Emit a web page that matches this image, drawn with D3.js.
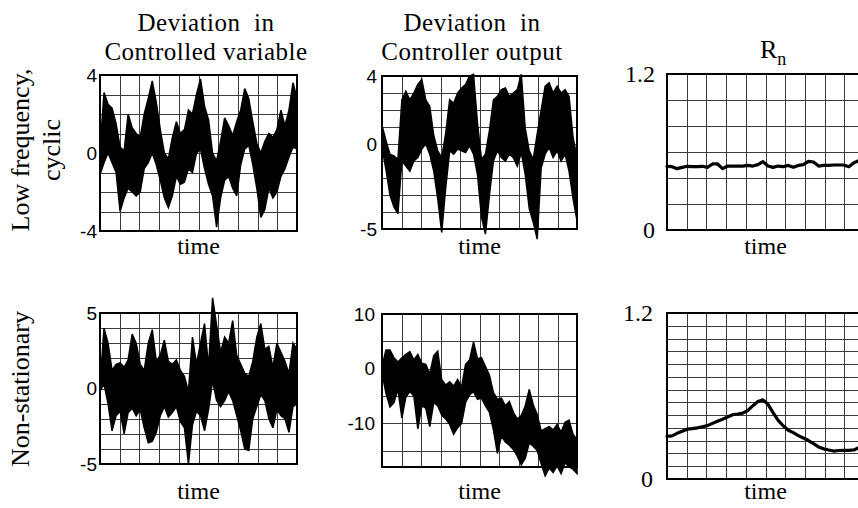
<!DOCTYPE html>
<html>
<head>
<meta charset="utf-8">
<script src="https://cdn.jsdelivr.net/npm/d3@7"></script>
<style>
  html, body { margin: 0; padding: 0; background: #fff; }
  svg { display: block; }
  .serif { font-family: "Liberation Serif", "Times New Roman", serif; fill: #000; }
  .sans { font-family: "Liberation Sans", Arial, sans-serif; fill: #000; }
  .grid line { stroke: #3c3c3c; stroke-width: 1; shape-rendering: crispEdges; }
  .frame { fill: none; stroke: #000; stroke-width: 1.2; shape-rendering: crispEdges; }
  .band { fill: #000; stroke: #000; stroke-width: 1.5; stroke-linejoin: miter; stroke-miterlimit: 3; }
  .rn { fill: none; stroke: #000; stroke-width: 3.2; stroke-linejoin: round; stroke-linecap: round; }
</style>
</head>
<body>
<div id="chart"></div>
<script>
// column / row headings
const columnTitles = [
  ["Deviation  in", "Controlled variable"],
  ["Deviation  in", "Controller output"],
];
const rowTitles = [["Low frequency,", "cyclic"], ["Non-stationary"]];
const axisLabel = "time";

// tick labels per panel
const cvCyclicTicks = [4, 0, -4];
const coCyclicTicks = [4, 0, -5];
const rnCyclicTicks = [1.2, 0];
const cvNonstatTicks = [5, 0, -5];
const coNonstatTicks = [10, 0, -10];
const rnNonstatTicks = [1.2, 0];

// noisy traces read as upper / lower envelope of the black band
const cvCyclicHigh = [0.2, 3.1, 2.5, 2.3, 1.5, 0.3, 0.1, 2.0, 1.3, 1.0, 0.8, 2.0, 2.8, 3.7, 2.6, 1.2, 0.0, -0.3, 0.8, 1.6,
  1.0, 1.2, 2.2, 2.0, 3.0, 3.8, 2.4, 1.7, 0.0, -0.4, 0.6, 1.8, 1.4, 0.9, 1.6, 2.2, 3.3, 2.8, 1.6, 0.5,
  0.0, 0.6, 1.0, 0.8, 1.2, 2.2, 1.4, 2.2, 3.6, 2.8];
const cvCyclicLow = [-1.1, -0.5, 0.0, -0.5, -1.0, -3.0, -2.3, -1.8, -2.0, -2.2, -2.0, -0.8, -0.5, 0.0, -0.6, -1.4, -2.3, -2.8, -2.2, -1.2,
  -1.6, -1.5, -0.8, -1.0, 0.0, 0.2, -0.8, -1.6, -2.2, -3.8, -2.3, -1.4, -1.2, -1.8, -2.2, -0.6, 0.2, 0.4, -0.6, -1.8,
  -3.3, -2.9, -1.8, -2.3, -2.0, -1.2, -0.8, -0.2, 0.3, 0.2];

const coCyclicHigh = [1.1, 0.2, -0.6, -0.7, -0.9, 2.6, 3.1, 2.6, 3.0, 3.5, 3.8, 2.6, 2.2, 0.5, -0.4, -0.8, 0.6, 2.6, 2.4, 3.0,
  3.3, 3.5, 4.0, 4.1, 1.2, -0.9, -0.6, 0.8, 2.6, 2.8, 3.2, 3.3, 2.8, 3.0, 3.2, 4.1, 0.9, -0.4, -0.9, 0.6,
  2.0, 3.4, 3.6, 3.0, 3.4, 3.0, 3.2, 2.8, 0.4, -0.8];
const coCyclicLow = [-0.2, -1.5, -3.0, -3.7, -4.1, -1.0, -1.3, -1.6, -1.0, -0.8, -0.3, 0.0, -0.6, -1.6, -3.2, -5.2, -2.6, -0.4, -0.6, -0.3,
  -0.4, -0.5, -0.1, -0.6, -1.8, -4.3, -5.3, -3.0, -1.0, -0.4, -0.8, -1.0, -0.6, -0.8, -1.3, -0.5, -1.8, -3.8, -4.6, -5.6,
  -1.4, -0.6, -0.2, -0.8, -0.4, -1.0, -0.6, -1.6, -3.2, -4.5];

const cvNonstatHigh = [0.2, 4.0, 3.0, 1.2, 1.6, 1.7, 1.4, 1.9, 3.6, 3.0, 1.6, 1.2, 3.0, 3.9, 1.8, 2.2, 3.2, 1.8, 1.6, 1.9,
  1.2, 0.8, -0.2, 3.4, 1.6, 3.0, 4.3, 1.4, 6.0, 4.2, 2.4, 3.4, 3.0, 4.5, 2.2, 1.6, 1.0, 0.8, 1.8, 3.4,
  4.3, 2.6, 2.8, 1.4, 3.0, 2.4, 1.8, 1.0, 3.0, 2.6];
const cvNonstatLow = [-0.2, 0.3, -1.0, -2.8, -1.8, -1.5, -3.0, -1.6, -1.3, -1.8, -1.4, -2.6, -3.6, -3.5, -2.9, -1.8, -1.2, -1.9, -1.6, -1.2,
  -2.2, -2.6, -5.0, -2.4, -1.5, -1.8, -2.8, -1.4, 0.5, -0.8, -1.2, -0.8, -0.2, -0.8, -1.8, -2.8, -4.0, -4.1, -2.0, -1.2,
  -0.4, -0.8, -2.0, -2.6, -1.4, -1.8, -2.0, -2.9, -1.2, -1.0];

const coNonstatHigh = [0.5, 3.4, 3.4, 2.0, 1.2, 2.0, 2.6, 3.1, 1.6, 2.6, 1.0, 0.8, -1.0, 2.4, 3.2, -2.0, -3.0, -2.4, -3.2, -2.0,
  -3.4, 0.8, 1.6, 4.9, 1.8, 2.0, 0.4, -1.2, -4.4, -5.6, -5.4, -6.8, -6.0, -8.0, -9.2, -8.6, -6.8, -3.8, -6.6, -8.4,
  -11.4, -11.0, -10.6, -11.2, -10.2, -11.6, -9.8, -9.4, -12.0, -13.0];
const coNonstatLow = [-0.8, -4.5, -7.0, -6.2, -3.8, -9.0, -5.2, -4.2, -5.0, -11.0, -6.8, -7.2, -10.6, -6.2, -6.8, -8.5, -9.2, -10.2, -12.0, -10.8,
  -10.0, -6.2, -4.8, -4.2, -5.6, -5.4, -6.8, -8.0, -11.2, -15.5, -12.4, -13.4, -14.0, -14.8, -16.0, -17.6, -16.4, -13.6, -14.2, -15.0,
  -17.4, -19.6, -18.2, -19.0, -17.8, -19.2, -17.2, -18.0, -18.4, -19.2];

// performance index R_n
const rnCyclic = [0.49, 0.487, 0.472, 0.482, 0.49, 0.487, 0.487, 0.49, 0.482, 0.508, 0.508, 0.472, 0.492, 0.492, 0.492, 0.492, 0.497, 0.492, 0.503, 0.526,
  0.492, 0.482, 0.492, 0.487, 0.497, 0.482, 0.497, 0.503, 0.528, 0.523, 0.492, 0.497, 0.497, 0.5, 0.5, 0.5, 0.487, 0.518, 0.533, 0.538];
const rnNonstat = [0.308, 0.312, 0.33, 0.345, 0.36, 0.364, 0.37, 0.378, 0.386, 0.402, 0.418, 0.432, 0.448, 0.465, 0.47, 0.476, 0.495, 0.53, 0.56, 0.572,
  0.54, 0.48, 0.424, 0.385, 0.352, 0.335, 0.314, 0.296, 0.278, 0.255, 0.232, 0.218, 0.21, 0.202, 0.206, 0.207, 0.207, 0.21, 0.228, 0.235];

const width = 858;
const height = 508;

const panels = [
  { x: 100, y: 75, w: 197, h: 156, domain: [-4, 4], rows: 8, ticks: cvCyclicTicks, high: cvCyclicHigh, low: cvCyclicLow, font: "sans", gap: 3, timeY: 254 },
  { x: 382, y: 76, w: 195, h: 153, domain: [-5, 4], rows: 9, ticks: coCyclicTicks, high: coCyclicHigh, low: coCyclicLow, font: "sans", gap: 5, timeY: 254 },
  { x: 667, y: 74, w: 197, h: 156, domain: [0, 1.2], rows: 6, ticks: rnCyclicTicks, line: rnCyclic, font: "serif", gap: 12, timeY: 254 },
  { x: 100, y: 313, w: 197, h: 151, domain: [-5, 5], rows: 10, ticks: cvNonstatTicks, high: cvNonstatHigh, low: cvNonstatLow, font: "sans", gap: 3, timeY: 499 },
  { x: 382, y: 314, w: 195, h: 153, domain: [-18, 10], hLines: [10, 5, 0, -5, -10, -15], ticks: coNonstatTicks, high: coNonstatHigh, low: coNonstatLow, font: "sans", gap: 7, timeY: 499 },
  { x: 667, y: 313, w: 197, h: 166, domain: [0, 1.2], rows: 13, ticks: rnNonstatTicks, line: rnNonstat, font: "serif", gap: 14, timeY: 499 },
];

const svg = d3.select("#chart").append("svg")
  .attr("width", width)
  .attr("height", height)
  .attr("viewBox", [0, 0, width, height]);

svg.append("rect").attr("width", width).attr("height", height).attr("fill", "#fff");

panels.forEach((p) => {
  const n = (p.line || p.high).length;
  const x = d3.scaleLinear().domain([0, n - 1]).range([p.x, p.x + p.w]);
  const y = d3.scaleLinear().domain(p.domain).range([p.y + p.h, p.y]);
  const g = svg.append("g");

  // grid
  const cols = d3.range(1, 10).map((i) => ((n - 1) * i) / 10);
  const [d0, d1] = p.domain;
  const rows = p.hLines
    ? p.hLines
    : d3.range(1, p.rows).map((i) => d0 + ((d1 - d0) * i) / p.rows);

  const grid = g.append("g").attr("class", "grid");
  grid.selectAll(".v").data(cols).join("line")
    .attr("x1", (d) => Math.round(x(d)) + 0.5).attr("x2", (d) => Math.round(x(d)) + 0.5)
    .attr("y1", p.y).attr("y2", p.y + p.h);
  grid.selectAll(".h").data(rows).join("line")
    .attr("x1", p.x).attr("x2", p.x + p.w)
    .attr("y1", (d) => Math.round(y(d)) + 0.5).attr("y2", (d) => Math.round(y(d)) + 0.5);

  g.append("rect").attr("class", "frame")
    .attr("x", p.x).attr("y", p.y).attr("width", p.w).attr("height", p.h);

  // data
  if (p.line) {
    g.append("path").attr("class", "rn")
      .attr("d", d3.line().x((d, i) => x(i)).y((d) => y(d))(p.line));
  } else {
    const area = d3.area()
      .x((d, i) => x(i))
      .y0((d, i) => y(p.low[i]))
      .y1((d) => y(d));
    g.append("path").attr("class", "band").attr("d", area(p.high));
  }

  // tick labels
  g.selectAll(".tick").data(p.ticks).join("text")
    .attr("class", p.font)
    .attr("x", p.x - p.gap)
    .attr("y", (d) => y(d))
    .attr("dy", "0.35em")
    .attr("text-anchor", "end")
    .style("font-size", p.font === "sans" ? "19px" : "24px")
    .text((d) => d);

  // time label
  g.append("text").attr("class", "serif")
    .attr("x", p.x + p.w / 2)
    .attr("y", p.timeY)
    .attr("text-anchor", "middle")
    .style("font-size", "24px")
    .text(axisLabel);
});

// column titles
const titleX = [206, 472];
columnTitles.forEach((lines, i) => {
  lines.forEach((t, j) => {
    svg.append("text").attr("class", "serif")
      .attr("x", titleX[i])
      .attr("y", 31 + j * 29)
      .attr("text-anchor", "middle")
      .style("font-size", "25px")
      .style("letter-spacing", "0.5px")
      .style("white-space", "pre")
      .text(t);
  });
});

const rn = svg.append("text").attr("class", "serif")
  .attr("x", 760).attr("y", 58)
  .style("font-size", "26px");
rn.append("tspan").text("R");
rn.append("tspan").attr("dy", 7).style("font-size", "18px").text("n");

// row titles (rotated)
const rowY = [150, 389];
rowTitles.forEach((lines, i) => {
  lines.forEach((t, j) => {
    svg.append("text").attr("class", "serif")
      .attr("transform", `translate(${29 + j * 31},${rowY[i]}) rotate(-90)`)
      .attr("text-anchor", "middle")
      .style("font-size", "26px")
      .text(t);
  });
});
</script>
</body>
</html>
